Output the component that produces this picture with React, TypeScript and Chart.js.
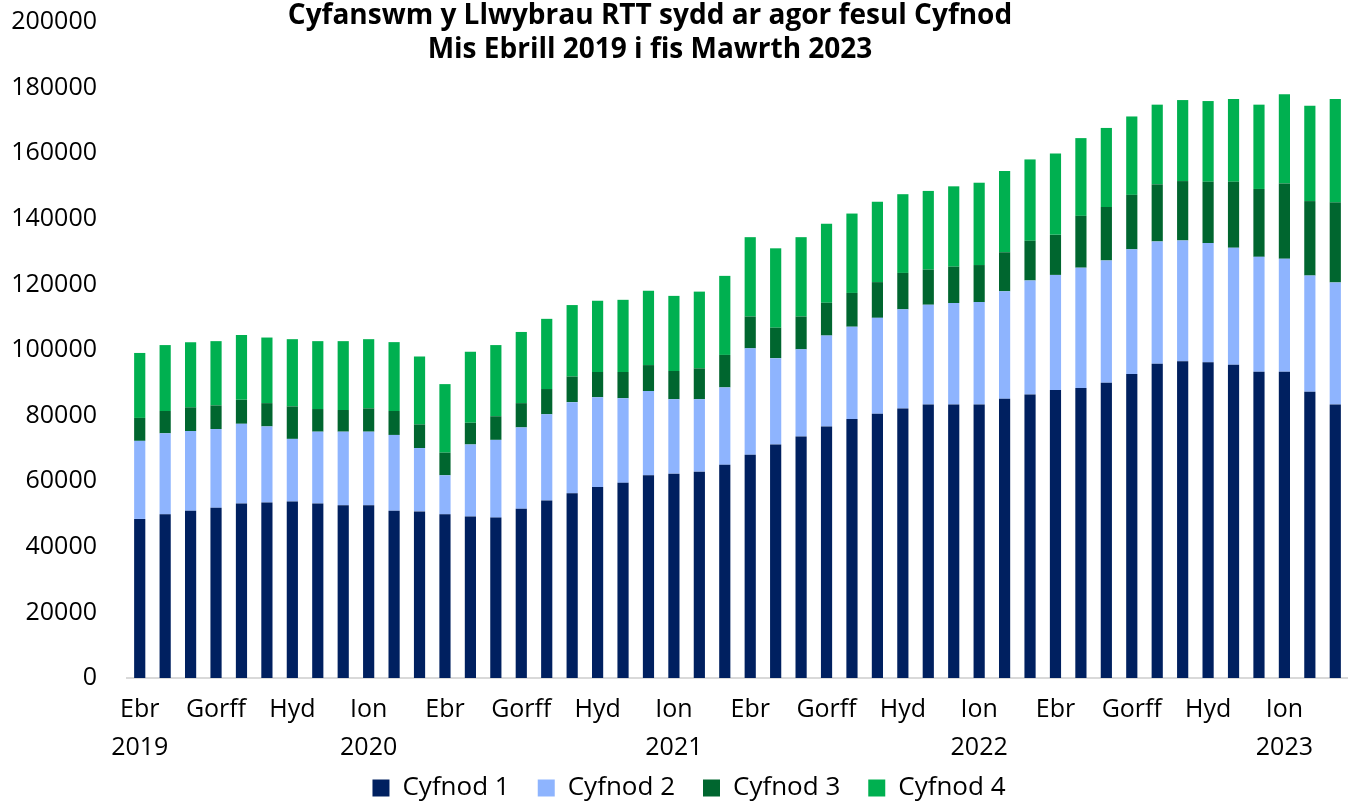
import React, { useEffect, useRef } from "react";
import { Chart, registerables } from "chart.js";

Chart.register(...registerables);

const FONT = "'Open Sans'";

const titleLines = [
  "Cyfanswm y Llwybrau RTT sydd ar agor fesul Cyfnod",
  "Mis Ebrill 2019 i fis Mawrth 2023",
];

const monthNames = ["Ebr", "Mai", "Meh", "Gorff", "Awst", "Medi", "Hyd", "Tach", "Rhag", "Ion", "Chwef", "Maw"];
const fiscalYears = [2019, 2020, 2021, 2022];

// visible tick labels (every third month) and year labels
const tickMonths = ["Ebr", "", "", "Gorff", "", "", "Hyd", "", "", "Ion", "", ""];
const yearLabels: Record<number, string> = { 0: "2019", 9: "2020", 21: "2021", 33: "2022", 45: "2023" };

const seriesNames = ["Cyfnod 1", "Cyfnod 2", "Cyfnod 3", "Cyfnod 4"];
const seriesColors = ["#002060", "#8EB4FE", "#00662F", "#00B050"];

const cyfnod1 = [
  48500, 49900, 51000, 51900, 53200, 53500, 53800, 53200, 52700, 52700, 51000, 50800,
  49900, 49200, 48900, 51600, 54100, 56300, 58200, 59500, 61800, 62300, 62900, 65000,
  68100, 71200, 73600, 76700, 79000, 80600, 82200, 83400, 83400, 83400, 85100, 86400,
  87800, 88400, 90000, 92700, 95800, 96600, 96300, 95500, 93400, 93400, 87300, 83400,
];
const cyfnod2 = [
  23800, 24700, 24300, 24000, 24300, 23200, 19100, 21900, 22400, 22400, 23100, 19300,
  11900, 22000, 23700, 24800, 26300, 27800, 27400, 25800, 25700, 22700, 22100, 23600,
  32400, 26300, 26600, 27700, 28100, 29200, 30200, 30400, 30900, 31200, 32800, 34800,
  35100, 36700, 37300, 38000, 37300, 36800, 36300, 35700, 35000, 34400, 35400, 37200,
];
const cyfnod3 = [
  7000, 6800, 7200, 7200, 7300, 7100, 9900, 6900, 6600, 7100, 7300, 7200,
  6900, 6600, 7200, 7400, 7700, 7800, 7700, 8000, 7900, 8600, 9400, 9900,
  9700, 9300, 10000, 10000, 10300, 10900, 11100, 10700, 11100, 11300, 11900, 12100,
  12200, 15800, 16300, 16600, 17400, 18100, 18700, 20100, 20700, 23000, 22700, 24400,
];
const cyfnod4 = [
  19800, 20100, 19900, 19600, 19800, 20000, 20500, 20700, 21000, 21100, 21000, 20700,
  20900, 21700, 21700, 21700, 21400, 21800, 21700, 22000, 22700, 22900, 23400, 24100,
  24200, 24200, 24200, 24100, 24200, 24500, 24000, 24000, 24500, 25100, 24800, 24800,
  24800, 23700, 24100, 23900, 24300, 24700, 24600, 25200, 25700, 27200, 29100, 31500,
];

const categories: string[] = [];
fiscalYears.forEach((fy) => {
  monthNames.forEach((m, i) => {
    categories.push(`${m} ${i < 9 ? fy : fy + 1}`);
  });
});

const tickLabels = categories.map((_, i) => {
  const m = tickMonths[i % 12];
  if (yearLabels[i] !== undefined) return [m, yearLabels[i]];
  return m;
});

const titlePlugin = {
  id: "twoLineTitle",
  afterLayout(chart: any) {
    // shift the legend a little to the right, as in the reference
    const lg = chart.legend;
    if (lg) {
      lg.left += 15;
      lg.right += 15;
    }
  },
  beforeDraw(chart: any) {
    // let the two-level category labels extend below the axis box
    const xs = chart.scales.x;
    if (xs) xs._computeLabelArea = () => undefined;
  },
  afterDraw(chart: any) {
    const ctx = chart.ctx;
    ctx.save();
    ctx.font = `bold 28px ${FONT}`;
    ctx.fillStyle = "#000000";
    ctx.textAlign = "center";
    ctx.textBaseline = "middle";
    ctx.fillText(titleLines[0], 650, 16);
    ctx.fillText(titleLines[1], 650, 50);
    ctx.restore();
  },
};

export default function App() {
  const ref = useRef<HTMLCanvasElement | null>(null);
  useEffect(() => {
    if (!ref.current) return;
    const allSeries = [cyfnod1, cyfnod2, cyfnod3, cyfnod4];
    const chart = new Chart(ref.current, {
      type: "bar",
      data: {
        labels: categories,
        datasets: allSeries.map((d, i) => ({
          label: seriesNames[i],
          data: d,
          backgroundColor: seriesColors[i],
          borderWidth: 0,
          categoryPercentage: 1,
          barPercentage: 0.44,
        })),
      },
      options: {
        animation: false,
        responsive: true,
        maintainAspectRatio: false,
        layout: { padding: { top: 22, left: 0, right: 0, bottom: -6 } },
        plugins: {
          title: { display: false },
          tooltip: { enabled: false },
          legend: {
            position: "bottom",
            labels: {
              boxWidth: 17,
              boxHeight: 17,
              padding: 28,
              color: "#000000",
              font: { family: FONT, size: 26 },
            },
          },
        },
        scales: {
          x: {
            stacked: true,
            grid: { display: false, drawTicks: false },
            border: { display: true, color: "#D9D9D9", width: 2 },
            ticks: {
              autoSkip: false,
              maxRotation: 0,
              minRotation: 0,
              padding: 12,
              color: "#000000",
              font: { family: FONT, size: 25, lineHeight: 1.55 },
              callback: (_v: any, i: number) => tickLabels[i],
            },
            afterFit: (s: any) => {
              s.height = 69;
            },
          },
          y: {
            stacked: true,
            min: 0,
            max: 200000,
            grid: { display: false, drawTicks: false },
            border: { display: false },
            ticks: {
              stepSize: 20000,
              padding: 30,
              color: "#000000",
              font: { family: FONT, size: 25 },
              callback: (v: any) => String(v),
            },
            afterFit: (s: any) => {
              s.width = 127;
              s.paddingTop = 0;
              s.paddingBottom = 0;
            },
          },
        },
      },
      plugins: [titlePlugin],
    });
    return () => chart.destroy();
  }, []);
  return (
    <div style={{ position: "fixed", left: 0, top: 0, width: 1348, height: 805, background: "#fff" }}>
      <canvas ref={ref} />
    </div>
  );
}
